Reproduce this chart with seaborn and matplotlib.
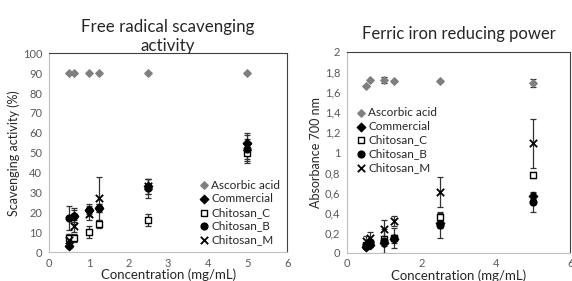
import matplotlib.pyplot as plt
import seaborn as sns
import pandas as pd
from matplotlib.ticker import FuncFormatter

# ---------------------------------------------------
# DATA
# ---------------------------------------------------

conc = [0.5, 0.625, 1, 1.25, 2.5, 5]
series = ["Ascorbic acid", "Commercial", "Chitosan_C", "Chitosan_B", "Chitosan_M"]

# scavenging activity (%)
scav_ascorbic = [90, 90, 90, 90, 90, 90]
scav_commercial = [3, 18, 21, 22, 33, 55]
scav_c = [7, 7, 10, 14, 16, 50]
scav_b = [17, 18, 21, 22, 32, 52]
scav_m = [6, 13, 19, 27, 33, 53]

scav_ascorbic_err = [0, 0, 0, 0, 0, 0]
scav_commercial_err = [1, 3, 2, 2, 4, 4]
scav_c_err = [2, 2, 3, 2, 3, 5]
scav_b_err = [6, 4, 3, 2, 5, 5]
scav_m_err = [3, 3, 3, 11, 4, 7]

# absorbance 700 nm
abs_ascorbic = [1.66, 1.72, 1.72, 1.71, 1.71, 1.69]
abs_commercial = [0.06, 0.08, 0.10, 0.14, 0.30, 0.57]
abs_c = [0.08, 0.10, 0.14, 0.15, 0.36, 0.78]
abs_b = [0.07, 0.10, 0.12, 0.15, 0.28, 0.51]
abs_m = [0.12, 0.15, 0.24, 0.32, 0.61, 1.09]

abs_ascorbic_err = [0, 0, 0.03, 0, 0, 0.04]
abs_commercial_err = [0.02, 0.02, 0.03, 0.04, 0.05, 0.03]
abs_c_err = [0.02, 0.03, 0.03, 0.03, 0.04, 0.03]
abs_b_err = [0.03, 0.04, 0.12, 0.10, 0.13, 0.10]
abs_m_err = [0.05, 0.06, 0.09, 0.05, 0.15, 0.24]


def long_table(values, errors):
    rows = []
    for name, vals, errs in zip(series, values, errors):
        for c, v, e in zip(conc, vals, errs):
            rows.append({"Concentration": c, "Value": v, "Err": e, "Series": name})
    return pd.DataFrame(rows)


scav_df = long_table(
    [scav_ascorbic, scav_commercial, scav_c, scav_b, scav_m],
    [scav_ascorbic_err, scav_commercial_err, scav_c_err, scav_b_err, scav_m_err],
)
abs_df = long_table(
    [abs_ascorbic, abs_commercial, abs_c, abs_b, abs_m],
    [abs_ascorbic_err, abs_commercial_err, abs_c_err, abs_b_err, abs_m_err],
)

# ---------------------------------------------------
# STYLE
# ---------------------------------------------------

sns.set_style("white")
plt.rcParams["font.family"] = ["Lato", "DejaVu Sans"]

markers = {"Ascorbic acid": "D", "Commercial": "D", "Chitosan_C": "s",
           "Chitosan_B": "o", "Chitosan_M": "X"}
faces = {"Ascorbic acid": "#7f7f7f", "Commercial": "black", "Chitosan_C": "white",
         "Chitosan_B": "black", "Chitosan_M": "black"}
edges = {"Ascorbic acid": "#7f7f7f", "Commercial": "black", "Chitosan_C": "black",
         "Chitosan_B": "black", "Chitosan_M": "black"}
sizes = {"Ascorbic acid": 14, "Commercial": 18, "Chitosan_C": 22,
         "Chitosan_B": 24, "Chitosan_M": 28}


def draw(ax, df):
    for name in series:
        d = df[df["Series"] == name]
        ax.errorbar(d["Concentration"], d["Value"], yerr=d["Err"], fmt="none",
                    ecolor="#333333", elinewidth=0.9, capsize=2.5, capthick=0.9,
                    zorder=2)
        if name == "Chitosan_M":
            sns.scatterplot(x="Concentration", y="Value", data=d, marker="x",
                            color="black", s=sizes[name], linewidth=1.3,
                            label=name, ax=ax, zorder=3)
        else:
            sns.scatterplot(x="Concentration", y="Value", data=d,
                            marker=markers[name], color=faces[name],
                            edgecolor=edges[name], linewidth=1.0,
                            s=sizes[name], label=name, ax=ax, zorder=3)


def style_axes(ax):
    for side in ["left", "bottom"]:
        ax.spines[side].set_color("#bfbfbf")
    for side in ["top", "right"]:
        ax.spines[side].set_color("#404040")
    ax.tick_params(axis="both", labelsize=8, colors="#595959", length=0, pad=5)
    ax.tick_params(axis="x", pad=4)
    ax.set_xlabel("Concentration (mg/mL)", fontsize=9.5, labelpad=0)


fig = plt.figure(figsize=(5.72, 2.81), dpi=100)

# ---------------------------------------------------
# FREE RADICAL SCAVENGING
# ---------------------------------------------------

ax1 = fig.add_axes([0.086, 0.103, 0.416, 0.707])
draw(ax1, scav_df)
style_axes(ax1)
ax1.set_xlim(0, 6)
ax1.set_ylim(0, 100)
ax1.set_xticks(range(0, 7))
ax1.set_yticks(range(0, 101, 10))
ax1.set_ylabel("Scavenging activity (%)", fontsize=9, labelpad=2)
ax1.set_title("Free radical scavenging\nactivity", fontsize=12.2, pad=2,
              linespacing=1.2)
ax1.legend(loc="lower right", bbox_to_anchor=(1.0, 0.0), frameon=False,
           fontsize=8.5, handletextpad=0.0, labelspacing=0.22,
           borderaxespad=0.2, handlelength=1.2)

# ---------------------------------------------------
# FERRIC IRON REDUCING POWER
# ---------------------------------------------------

ax2 = fig.add_axes([0.607, 0.1, 0.39, 0.715])
draw(ax2, abs_df)
style_axes(ax2)
ax2.set_xlim(0, 6)
ax2.set_ylim(0, 2)
ax2.set_xticks([0, 2, 4, 6])
ax2.set_yticks([i / 10 for i in range(0, 21, 2)])
ax2.yaxis.set_major_formatter(
    FuncFormatter(lambda v, p: ("%g" % round(v, 1)).replace(".", ",")))
ax2.set_ylabel("Absorbance 700 nm", fontsize=9, labelpad=2)
ax2.set_title("Ferric iron reducing power", fontsize=12, pad=9)
ax2.legend(loc="upper left", bbox_to_anchor=(0.0, 0.76), frameon=False,
           fontsize=8.5, handletextpad=0.0, labelspacing=0.22,
           borderaxespad=0.2, handlelength=1.2)

fig.savefig("out.png", dpi=100)
